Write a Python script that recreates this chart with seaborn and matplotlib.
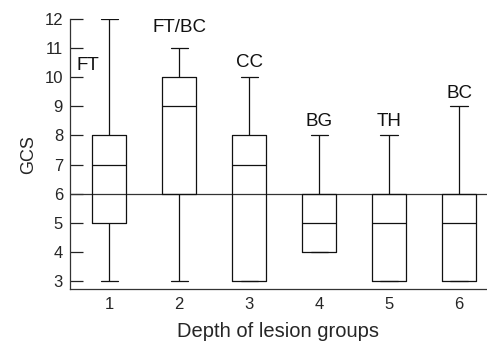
import matplotlib
matplotlib.use("Agg")
import matplotlib.pyplot as plt
import seaborn as sns
import pandas as pd

groups = ["1", "2", "3", "4", "5", "6"]
labels = ["FT", "FT/BC", "CC", "BG", "TH", "BC"]
# five-number summaries per group (min, Q1, median, Q3, max)
g1 = [3, 5, 7, 8, 12]
g2 = [3, 6, 9, 10, 11]
g3 = [3, 3, 7, 8, 10]
g4 = [4, 4, 5, 6, 8]
g5 = [3, 3, 5, 6, 8]
g6 = [3, 3, 5, 6, 9]
yticks = [3, 4, 5, 6, 7, 8, 9, 10, 11, 12]
ref_line = 6

sns.set_theme(style="white")
plt.rcParams['font.family'] = ['Liberation Sans', 'DejaVu Sans']

rows = []
for g, vals in zip(groups, [g1, g2, g3, g4, g5, g6]):
    for v in vals:
        rows.append({"group": g, "GCS": v})
df = pd.DataFrame(rows)

fig = plt.figure(figsize=(4.87, 3.42), dpi=100)
ax = fig.add_axes([0.1437, 0.155, 0.8563, 0.789])

ax.axhline(ref_line, color="#333333", lw=0.9, zorder=1)
sns.boxplot(data=df, x="group", y="GCS", order=groups, whis=(0, 100),
            width=0.49, fill=False, color="#111111", linewidth=0.9, ax=ax)

label_pos = [(-0.3, 10.42), (1, 11.72), (2, 10.5),
             (3, 8.47), (4, 8.47), (5, 9.45)]
for (x, y), lab in zip(label_pos, labels):
    ax.text(x, y, lab, ha="center", va="center", fontsize=13.5, color="#111111")

ax.set_xlim(-0.56, 5.4)
ax.set_ylim(2.72, 12)
ax.set_yticks(yticks)
ax.set_yticklabels([str(t) for t in yticks])
ax.tick_params(axis="y", direction="in", length=9.5, width=0.9, color="#222222",
               pad=5, labelsize=12, left=True)
ax.tick_params(axis="x", length=0, pad=6, labelsize=12)
ax.set_xlabel("Depth of lesion groups", fontsize=14.5, labelpad=7)
ax.set_ylabel("GCS", fontsize=13, labelpad=5)
for s in ["top", "right"]:
    ax.spines[s].set_visible(False)
for s in ["left", "bottom"]:
    ax.spines[s].set_color("#333333")
    ax.spines[s].set_linewidth(0.9)

fig.savefig("out.png", dpi=100)
